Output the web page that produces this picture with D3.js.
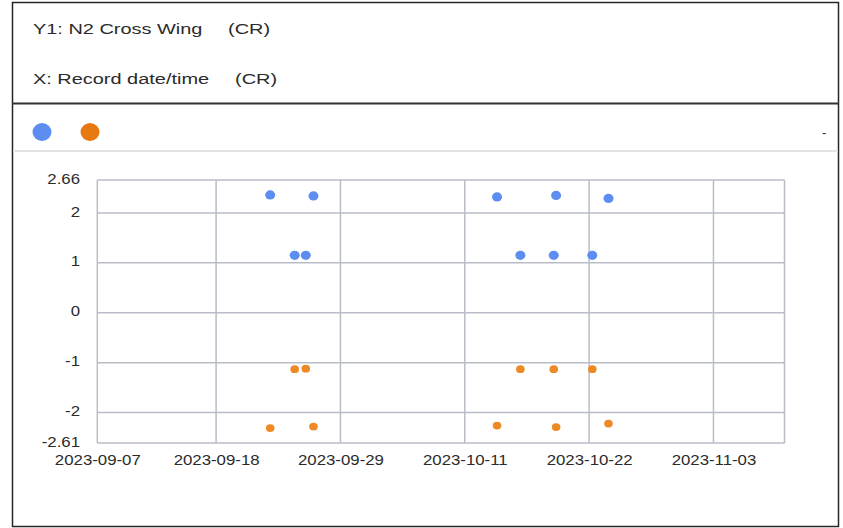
<!DOCTYPE html>
<html>
<head>
<meta charset="utf-8">
<script src="https://cdn.jsdelivr.net/npm/d3@7"></script>
<style>
  body { margin: 0; background: #fff; }
  svg text { font-family: "Liberation Sans", Arial, sans-serif; fill: #2b2b2b; }
</style>
</head>
<body>
<div id="chart"></div>
<script>
// Chart data
const recordTimes = [
    "2023-09-23T10:20", "2023-09-25T16:30", "2023-09-26T17:00", "2023-09-27T10:00",
    "2023-10-14T07:40", "2023-10-16T11:15", "2023-10-19T13:00", "2023-10-19T18:15",
    "2023-10-23T02:10", "2023-10-24T14:00"
];
const blueValues = [2.36, 1.15, 1.15, 2.34, 2.32, 1.15, 1.15, 2.35, 1.15, 2.29];
const orangeValues = [-2.31, -1.13, -1.12, -2.28, -2.26, -1.13, -1.13, -2.29, -1.13, -2.22];

const yTicks = [-2.61, -2, -1, 0, 1, 2, 2.66];
const xTicks = [
    "2023-09-07T12:14", "2023-09-18T10:48", "2023-09-29T21:36",
    "2023-10-11T08:24", "2023-10-22T19:12", "2023-11-03T06:00"
];
const xDomain = ["2023-09-07T12:14", "2023-11-09T19:00"];

const headerY = "Y1: N2 Cross Wing";
const headerX = "X: Record date/time";
const unitLabel = "(CR)";

const parseTime = d3.timeParse("%Y-%m-%dT%H:%M");
const fmt = d3.timeFormat("%Y-%m-%d");

const width = 843, height = 528;
const plot = {left: 97.3, right: 784.5, top: 180, bottom: 443};
const stretch = 1.2;

const svg = d3.select("#chart").append("svg")
    .attr("width", width)
    .attr("height", height);

// Frame and header separators
svg.append("rect")
    .attr("x", 12.5).attr("y", 2.5)
    .attr("width", 826).attr("height", 524)
    .attr("fill", "none")
    .attr("stroke", "#262626")
    .attr("stroke-width", 1.5);

svg.append("line")
    .attr("x1", 12).attr("x2", 839)
    .attr("y1", 103.5).attr("y2", 103.5)
    .attr("stroke", "#333")
    .attr("stroke-width", 2);

svg.append("line")
    .attr("x1", 13).attr("x2", 838)
    .attr("y1", 151).attr("y2", 151)
    .attr("stroke", "#e4e4e4")
    .attr("stroke-width", 2);

// Header text (stretched horizontally like the reference)
function headText(x, y, str) {
    svg.append("text")
        .attr("transform", `translate(${x},${y}) scale(1.33,1)`)
        .style("font-size", "15px")
        .text(str);
}
headText(33, 34, headerY);
headText(228, 34, unitLabel);
headText(33, 84, headerX);
headText(235, 84, unitLabel);

// Legend
const blue = "#5e8df1";
const orange = "#e67a10";
svg.append("ellipse").attr("cx", 42).attr("cy", 132).attr("rx", 9.5).attr("ry", 9).attr("fill", blue);
svg.append("ellipse").attr("cx", 90).attr("cy", 132).attr("rx", 9.5).attr("ry", 9).attr("fill", orange);
svg.append("text")
    .attr("x", 822).attr("y", 137)
    .style("font-size", "13px")
    .text("-");

// Scales
const x = d3.scaleTime()
    .domain(xDomain.map(parseTime))
    .range([plot.left, plot.right]);

const y = d3.scaleLinear()
    .domain([yTicks[0], yTicks[yTicks.length - 1]])
    .range([plot.bottom, plot.top]);

const gridColor = "#b9bdc8";

// Grid lines
const gPlot = svg.append("g");

gPlot.append("g")
    .selectAll("line")
    .data(yTicks)
    .join("line")
    .attr("x1", plot.left).attr("x2", plot.right)
    .attr("y1", d => y(d)).attr("y2", d => y(d))
    .attr("stroke", gridColor)
    .attr("stroke-width", 1.5);

gPlot.append("g")
    .selectAll("line")
    .data(xTicks.map(parseTime).concat([parseTime(xDomain[1])]))
    .join("line")
    .attr("x1", d => x(d)).attr("x2", d => x(d))
    .attr("y1", plot.top).attr("y2", plot.bottom)
    .attr("stroke", gridColor)
    .attr("stroke-width", 1.5);

// Axes (labels only)
const xAxis = svg.append("g")
    .attr("transform", `translate(0,${plot.bottom})`)
    .call(d3.axisBottom(x).tickValues(xTicks.map(parseTime)).tickFormat(fmt).tickSize(0).tickPadding(0));
xAxis.select(".domain").remove();
xAxis.selectAll("text")
    .attr("y", 0).attr("dy", 0)
    .attr("transform", `translate(0,22) scale(${stretch},1)`)
    .style("font-size", "14px")
    .style("font-family", "'Liberation Sans', Arial, sans-serif")
    .attr("fill", "#2b2b2b");

const yAxis = svg.append("g")
    .attr("transform", `translate(80,0)`)
    .call(d3.axisLeft(y).tickValues(yTicks).tickFormat(d => String(d)).tickSize(0).tickPadding(0));
yAxis.select(".domain").remove();
yAxis.selectAll("text")
    .attr("x", 0).attr("dy", "0.22em")
    .attr("transform", `scale(${stretch},1)`)
    .style("font-size", "14px")
    .style("font-family", "'Liberation Sans', Arial, sans-serif")
    .attr("fill", "#2b2b2b");

// Points
const pts = recordTimes.map((t, i) => ({t: parseTime(t), b: blueValues[i], o: orangeValues[i]}));

svg.append("g")
    .selectAll("ellipse")
    .data(pts)
    .join("ellipse")
    .attr("cx", d => x(d.t))
    .attr("cy", d => y(d.b))
    .attr("rx", 5).attr("ry", 4.6)
    .attr("fill", blue);

svg.append("g")
    .selectAll("ellipse")
    .data(pts)
    .join("ellipse")
    .attr("cx", d => x(d.t))
    .attr("cy", d => y(d.o))
    .attr("rx", 4.3).attr("ry", 3.9)
    .attr("fill", "#ee8a25");
</script>
</body>
</html>
